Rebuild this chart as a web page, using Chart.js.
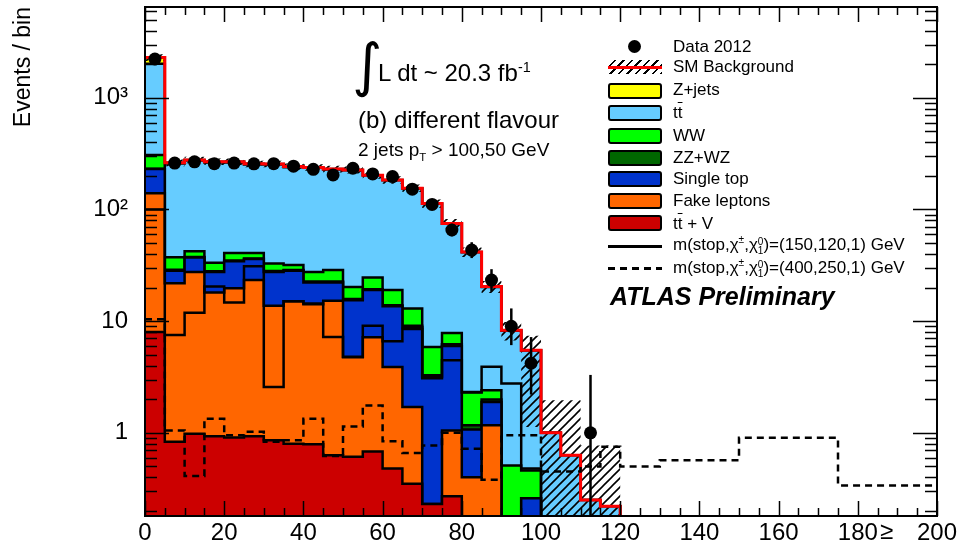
<!DOCTYPE html>
<html>
<head>
<meta charset="utf-8">
<script src="https://cdn.jsdelivr.net/npm/chart.js@4.4.1/dist/chart.umd.min.js"></script>
<style>
  body { margin: 0; background: #fff; }
  #wrap { position: relative; width: 962px; height: 547px; font-family: "Liberation Sans", Arial, sans-serif; color: #000; }
  #chart { position: absolute; left: 0; top: 0; }
  .t { position: absolute; white-space: nowrap; line-height: 1; }
  .leg { font-size: 17px; }
  .box { position: absolute; width: 50px; height: 12px; border: 2px solid #000; border-radius: 3px; }
  .ss { display: inline-flex; flex-direction: column; font-size: 10px; line-height: 9px; vertical-align: 5px; }
  sup, sub { font-size: 60%; line-height: 0; }
  .ov { text-decoration: overline; }
</style>
</head>
<body>
<div id="wrap">
  <canvas id="chart" width="962" height="547"></canvas>

  <!-- annotations -->
  <div class="t" style="left:352px; top:36px; font-size:58px; font-family:'DejaVu Sans';">∫</div>
  <div class="t" style="left:378px; top:61px; font-size:24px;">L dt ~ 20.3 fb<sup>-1</sup></div>
  <div class="t" style="left:358px; top:108px; font-size:24px;">(b) different flavour</div>
  <div class="t" style="left:358px; top:140px; font-size:19px;">2 jets p<sub>T</sub> &gt; 100,50 GeV</div>
  <div class="t" style="left:880px; top:519px; font-size:24px;">≥</div>

  <!-- legend -->
  <div style="position:absolute; left:628px; top:40px; width:13px; height:13px; border-radius:50%; background:#000;"></div>
  <div class="t leg" style="left:673px; top:38px;">Data 2012</div>

  <div style="position:absolute; left:608px; top:60px; width:54px; height:14px; background:repeating-linear-gradient(-45deg, #000 0 1.5px, transparent 1.5px 6px);"></div>
  <div style="position:absolute; left:608px; top:66px; width:54px; height:3px; background:#ff0000;"></div>
  <div class="t leg" style="left:673px; top:58px;">SM Background</div>

  <div class="box" style="left:608px; top:83px; background:#ffff00;"></div>
  <div class="t leg" style="left:673px; top:81px;">Z+jets</div>

  <div class="box" style="left:608px; top:105px; background:#66ccff;"></div>
  <div class="t leg" style="left:673px; top:104px;">t<span class="ov">t</span></div>

  <div class="box" style="left:608px; top:128px; background:#00ff00;"></div>
  <div class="t leg" style="left:673px; top:127px;">WW</div>

  <div class="box" style="left:608px; top:150px; background:#006600;"></div>
  <div class="t leg" style="left:673px; top:149px;">ZZ+WZ</div>

  <div class="box" style="left:608px; top:171px; background:#0033cc;"></div>
  <div class="t leg" style="left:673px; top:170px;">Single top</div>

  <div class="box" style="left:608px; top:193px; background:#ff6600;"></div>
  <div class="t leg" style="left:673px; top:192px;">Fake leptons</div>

  <div class="box" style="left:608px; top:215px; background:#cc0000;"></div>
  <div class="t leg" style="left:673px; top:215px;">t<span class="ov">t</span> + V</div>

  <div style="position:absolute; left:608px; top:245px; width:54px; height:3px; background:#000;"></div>
  <div class="t leg" style="left:673px; top:236px;">m(stop,χ<sup>±</sup>,χ<span class="ss"><span>0</span><span>1</span></span>)=(150,120,1) GeV</div>

  <div style="position:absolute; left:608px; top:267px; width:54px; height:3px; background:repeating-linear-gradient(90deg, #000 0 7px, transparent 7px 12px);"></div>
  <div class="t leg" style="left:673px; top:259px;">m(stop,χ<sup>±</sup>,χ<span class="ss"><span>0</span><span>1</span></span>)=(400,250,1) GeV</div>

  <div class="t" style="left:610px; top:284px; font-size:25px; font-weight:bold; font-style:italic;">ATLAS Preliminary</div>
</div>

<script>
// bins of 5 GeV from 0 to 200
const binWidth = 5;
const xMin = 0;
const xMax = 200;

// stacked backgrounds, events per bin
const ttV = [8.0, 0.83, 0.98, 0.93, 0.91, 0.93, 0.86, 0.80, 0.79, 0.63, 0.61, 0.68, 0.48, 0.35, 0.23, 0.27, 0.05, 0.03, 0, 0,
  0, 0, 0, 0, 0, 0, 0, 0, 0, 0, 0, 0, 0, 0, 0, 0, 0, 0, 0, 0];
const fakeLeptons = [132, 21.0, 26.5, 17.1, 18.8, 22.4, 12.9, 14.3, 13.4, 14.6, 4.15, 6.5, 3.4, 1.35, 0, 0.78, 0.35, 1.14, 0, 0,
  0, 0, 0, 0, 0, 0, 0, 0, 0, 0, 0, 0, 0, 0, 0, 0, 0, 0, 0, 0];
const singleTop = [90, 6.5, 9.6, 9.5, 14.7, 12.6, 13.8, 13.2, 8.0, 7.0, 10.6, 11.8, 9.7, 7.1, 2.85, 4.95, 0.67, 0.72, 0, 0.26,
  0, 0, 0, 0, 0, 0, 0, 0, 0, 0, 0, 0, 0, 0, 0, 0, 0, 0, 0, 0];
const zzwz = [2, 0.5, 0.5, 0.5, 0.5, 0.5, 0.5, 0.4, 0.4, 0.4, 0.4, 0.3, 0.3, 0.3, 0.2, 0.2, 0.1, 0.1, 0, 0,
  0, 0, 0, 0, 0, 0, 0, 0, 0, 0, 0, 0, 0, 0, 0, 0, 0, 0, 0, 0];
const ww = [75, 8.5, 4.6, 5.3, 5.8, 4.3, 4.8, 3.1, 4.9, 6.1, 4.5, 5.3, 5.1, 3.9, 2.6, 1.65, 1.15, 0.42, 0.51, 0.2,
  0, 0, 0, 0, 0, 0, 0, 0, 0, 0, 0, 0, 0, 0, 0, 0, 0, 0, 0, 0];
const ttbar = [1713, 220.7, 231.8, 230.7, 223.3, 212.3, 220.1, 207.2, 208.5, 199.3, 203.7, 177.4, 164, 141, 106.6, 66.65, 38.98, 17.79, 7.69, 4.99,
  1.0, 0.63, 0.25, 0.22, 0, 0, 0, 0, 0, 0, 0, 0, 0, 0, 0, 0, 0, 0, 0, 0];
const zjets = [270, 4, 4, 4, 4, 3, 3, 3, 2, 2, 2, 1, 1, 1, 0.5, 0.5, 0.3, 0.2, 0.1, 0.05,
  0, 0, 0, 0, 0, 0, 0, 0, 0, 0, 0, 0, 0, 0, 0, 0, 0, 0, 0, 0];

// SM background uncertainty (hatched band)
const smErrUp = [160, 18, 19, 18, 18, 17, 17, 16, 16, 16, 16, 15, 14, 12, 10, 7, 4, 2.5, 1.55, 1.9,
  0.96, 1.33, 0.52, 0.55, 0, 0, 0, 0, 0, 0, 0, 0, 0, 0, 0, 0, 0, 0, 0, 0];
const smErrDown = [160, 18, 19, 18, 18, 17, 17, 16, 16, 16, 16, 15, 14, 12, 10, 7, 4, 2.5, 1.6, 4.37,
  1.0, 0.63, 0.25, 0.22, 0, 0, 0, 0, 0, 0, 0, 0, 0, 0, 0, 0, 0, 0, 0, 0];

// data 2012 with error bars
const data2012 = [2224, 260, 267, 257, 260, 256, 257, 244, 229, 204, 234, 208, 197, 152, 111, 65.5, 43.3, 23.3, 9.0, 4.2,
  null, null, 1, null, null, null, null, null, null, null, null, null, null, null, null, null, null, null, null, null];
const dataErrUp = [48, 17, 17, 17, 17, 17, 17, 16, 16, 15, 16, 15, 15, 13, 11, 9, 7.6, 5.9, 4.0, 3.0,
  0, 0, 2.3, 0, 0, 0, 0, 0, 0, 0, 0, 0, 0, 0, 0, 0, 0, 0, 0, 0];
const dataErrDown = [47, 16, 16, 16, 16, 16, 16, 15, 15, 14, 15, 14, 14, 12, 10, 8, 6.6, 4.8, 2.9, 2.0,
  0, 0, 1.0, 0, 0, 0, 0, 0, 0, 0, 0, 0, 0, 0, 0, 0, 0, 0, 0, 0];

// signal points
const sigA = [100, 7.5, 11.9, 20.4, 14.7, 31, 2.57, 15.1, 14.4, 7.2, 4.8, 9.1, 6.6, 8.5, 3.2, 4.47, 2.3, 3.9, 2.76, 0.48,
  0, 0, 0, 0, 0, 0, 0, 0, 0, 0, 0, 0, 0, 0, 0, 0, 0, 0, 0, 0];
const sigB = [10.4, 1.05, 0.41, 1.34, 0.95, 1.02, 0.83, 0.86, 1.34, 0.62, 1.14, 1.76, 0.84, 0.66, 0.77, 1.0, 0.72, 0.38, 0.95, 0.95,
  0.45, 0.45, 0.5, 0.75, 0.5, 0.5, 0.567, 0.567, 0.567, 0.567, 0.905, 0.905, 0.905, 0.905, 0.905, 0.338, 0.338, 0.338, 0.338, 0.338];

const yTickLabels = { 1: "1", 10: "10", 100: "10²", 1000: "10³" };

const font = "'Liberation Sans', Arial, sans-serif";
const nBins = ttV.length;
const edges = [];
for (let i = 0; i <= nBins; i++) edges.push(xMin + i * binWidth);
const tiny = 1e-3;

function stepPoints(vals) {
  const pts = vals.map((v, i) => ({ x: edges[i], y: v > 0 ? v : tiny }));
  const last = vals[vals.length - 1];
  pts.push({ x: edges[nBins], y: last > 0 ? last : tiny });
  return pts;
}

// cumulative stack, bottom to top
const stack = [ttV, fakeLeptons, singleTop, zzwz, ww, ttbar, zjets];
const cum = [];
let run = new Array(nBins).fill(0);
for (const s of stack) {
  run = run.map((r, i) => r + s[i]);
  cum.push(run.slice());
}
const total = cum[cum.length - 1];
const bandUp = total.map((t, i) => t > 0 ? t + smErrUp[i] : 0);
const bandDown = total.map((t, i) => t - smErrDown[i]);

function hatch() {
  const c = document.createElement("canvas");
  c.width = 9; c.height = 9;
  const g = c.getContext("2d");
  g.strokeStyle = "#000";
  g.lineWidth = 1.6;
  g.beginPath();
  g.moveTo(0, 9); g.lineTo(9, 0);
  g.moveTo(-3, 3); g.lineTo(3, -3);
  g.moveTo(6, 12); g.lineTo(12, 6);
  g.stroke();
  return g.createPattern(c, "repeat");
}

function histo(vals, color, extra) {
  return Object.assign({
    data: stepPoints(vals),
    stepped: "before",
    pointRadius: 0,
    borderColor: "#000",
    borderWidth: 2.5,
    backgroundColor: color,
    fill: "start",
    clip: 0
  }, extra || {});
}

const stackColors = ["#cc0000", "#ff6600", "#0033cc", "#006600", "#00ff00", "#66ccff", "#ffff00"];

const dataPoints = [];
data2012.forEach((v, i) => { if (v !== null) dataPoints.push({ x: edges[i] + binWidth / 2, y: v }); });

// first dataset is drawn on top
const datasets = [
  { data: dataPoints, showLine: false, pointRadius: 6.5, pointBackgroundColor: "#000", pointBorderWidth: 0, clip: 0 },
  histo(sigA, "transparent", { fill: false }),
  histo(sigB, "transparent", { fill: false, borderDash: [7, 5] }),
  histo(total, "transparent", { fill: false, borderColor: "#ff0000", borderWidth: 3 }),
  histo(bandUp, hatch(), { fill: "+1", borderWidth: 0 }),
  histo(bandDown, "transparent", { fill: false, borderWidth: 0 })
];
for (let k = 0; k < cum.length; k++) datasets.push(histo(cum[k], stackColors[k]));

const errorBars = {
  id: "errorBars",
  afterDatasetsDraw(chart) {
    const { ctx, chartArea: a, scales: { x, y } } = chart;
    ctx.save();
    ctx.beginPath();
    ctx.rect(a.left, a.top, a.width, a.height);
    ctx.clip();
    ctx.strokeStyle = "#000";
    ctx.lineWidth = 2.5;
    data2012.forEach((v, i) => {
      if (v === null) return;
      const px = x.getPixelForValue(edges[i] + binWidth / 2);
      const lo = v - dataErrDown[i];
      const yHi = y.getPixelForValue(v + dataErrUp[i]);
      const yLo = lo > 0 ? y.getPixelForValue(lo) : a.bottom;
      ctx.beginPath();
      ctx.moveTo(px, yHi);
      ctx.lineTo(px, yLo);
      ctx.stroke();
    });
    ctx.restore();
  }
};

const frame = {
  id: "frame",
  afterDatasetsDraw(chart) {
    const { ctx, chartArea: a, scales: { x, y } } = chart;
    ctx.save();
    ctx.strokeStyle = "#000";
    ctx.lineWidth = 1.5;
    ctx.beginPath();
    for (let e = -1; e <= 3; e++) {
      for (let m = 1; m <= 9; m++) {
        const v = m * Math.pow(10, e);
        if (v < y.min || v > y.max) continue;
        const py = Math.round(y.getPixelForValue(v)) + 0.5;
        const len = m === 1 ? 24 : 12;
        ctx.moveTo(a.left, py); ctx.lineTo(a.left + len, py);
        ctx.moveTo(a.right, py); ctx.lineTo(a.right - len, py);
      }
    }
    for (let v = xMin; v <= xMax; v += binWidth) {
      const px = Math.round(x.getPixelForValue(v)) + 0.5;
      const len = v % 20 === 0 ? 15 : 8;
      ctx.moveTo(px, a.bottom); ctx.lineTo(px, a.bottom - len);
      ctx.moveTo(px, a.top); ctx.lineTo(px, a.top + len);
    }
    ctx.stroke();
    ctx.lineWidth = 2;
    ctx.strokeRect(a.left, a.top, a.width, a.height);
    ctx.restore();
  }
};

new Chart(document.getElementById("chart"), {
  type: "line",
  data: { datasets },
  options: {
    responsive: false,
    animation: false,
    layout: { padding: { top: 7, right: 25, left: 0, bottom: 0 } },
    plugins: { legend: { display: false }, tooltip: { enabled: false } },
    scales: {
      x: {
        type: "linear",
        min: xMin,
        max: xMax,
        grid: { display: false, drawTicks: false },
        border: { display: false },
        ticks: { stepSize: 20, padding: 3, maxRotation: 0, autoSkip: false, color: "#000", font: { family: font, size: 24 } },
        afterFit(s) { s.height = 31; s.paddingLeft = 0; s.paddingRight = 0; }
      },
      y: {
        type: "logarithmic",
        min: 0.18,
        max: 6500,
        grid: { display: false, drawTicks: false },
        border: { display: false },
        afterBuildTicks(s) { s.ticks = [1, 10, 100, 1000].map(v => ({ value: v })); },
        ticks: { padding: 17, color: "#000", font: { family: font, size: 24 }, callback: v => yTickLabels[v] || "" },
        title: { display: true, text: "Events / bin", align: "end", color: "#000", font: { family: font, size: 23 }, padding: { top: 10 } },
        afterFit(s) { s.width = 145; s.paddingTop = 0; s.paddingBottom = 0; }
      }
    }
  },
  plugins: [errorBars, frame]
});
</script>
</body>
</html>
